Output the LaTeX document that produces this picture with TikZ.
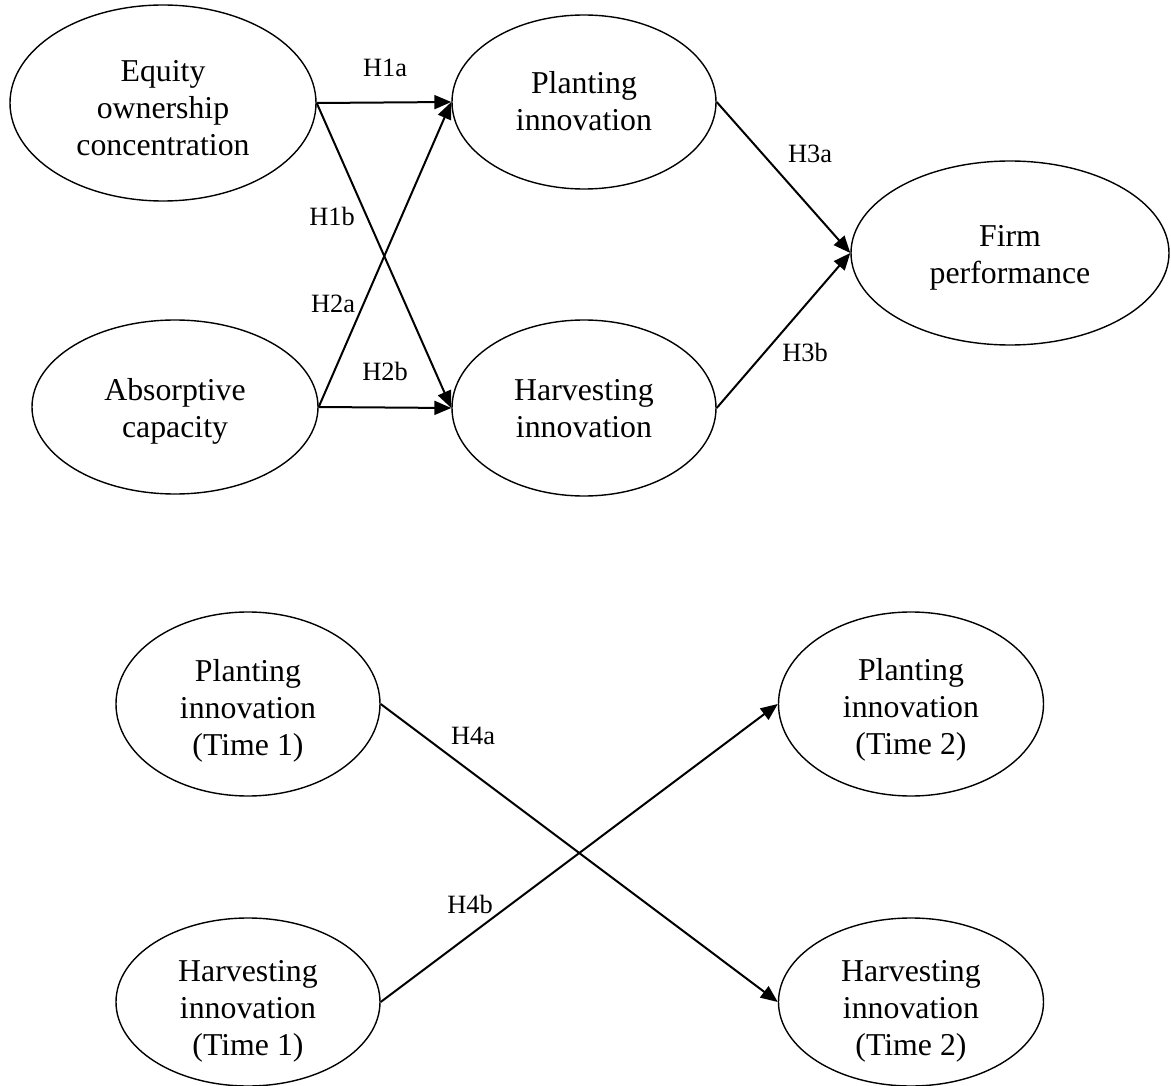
\documentclass[tikz,border=0pt]{standalone}
\usepackage{fontspec}
\setmainfont{Liberation Serif}
\usetikzlibrary{shapes.geometric,arrows.meta,calc}
\begin{document}
\begin{tikzpicture}[x=1pt,y=-1pt,
  ell/.style={draw,line width=1.4pt,ellipse,inner sep=0pt},
  etext/.style={inner sep=0pt,align=center,font=\fontsize{31.8}{37}\selectfont},
  hyp/.style={inner sep=0pt,font=\fontsize{26.4}{30}\selectfont},
  conn/.style={line width=2pt,-{Triangle[length=17pt,width=14pt]}}]
\useasboundingbox (0,0) rectangle (1171,1086);
\node[ell,minimum width=306pt,minimum height=196pt] (eq) at (163,103) {};
\node[ell,minimum width=264pt,minimum height=174pt] (pl) at (584,102) {};
\node[ell,minimum width=286pt,minimum height=174pt] (ab) at (175,407) {};
\node[ell,minimum width=264pt,minimum height=176pt] (hv) at (584,408) {};
\node[ell,minimum width=318pt,minimum height=184pt] (fp) at (1010,253) {};
\node[ell,minimum width=264pt,minimum height=184pt] (p1) at (248,704) {};
\node[ell,minimum width=265pt,minimum height=184pt] (p2) at (911,704) {};
\node[ell,minimum width=264pt,minimum height=168pt] (h1) at (248,1002) {};
\node[ell,minimum width=265pt,minimum height=168pt] (h2) at (911,1002) {};
\node[etext] (eqt) at ($(eq)+(0,5)$) {Equity\\ownership\\concentration};
\node[etext] (plt) at ($(pl)+(0,-1)$) {Planting\\innovation};
\node[etext] (abt) at ($(ab)+(0,4)$) {Absorptive\\capacity};
\node[etext] (hvt) at ($(hv)+(0,1)$) {Harvesting\\innovation};
\node[etext] (fpt) at ($(fp)+(0,5)$) {Firm\\performance};
\node[etext] (p1t) at ($(p1)+(0,7)$) {Planting\\innovation\\(Time 1)};
\node[etext] (p2t) at ($(p2)+(0,6)$) {Planting\\innovation\\(Time 2)};
\node[etext] (h1t) at ($(h1)+(0,9)$) {Harvesting\\innovation\\(Time 1)};
\node[etext] (h2t) at ($(h2)+(0,9)$) {Harvesting\\innovation\\(Time 2)};
\draw[conn] (eq.east) -- (pl.west);
\draw[conn] (eq.east) -- (hv.west);
\draw[conn] (ab.east) -- (pl.west);
\draw[conn] (ab.east) -- (hv.west);
\draw[conn] (pl.east) -- (fp.west);
\draw[conn] (hv.east) -- (fp.west);
\draw[conn] (p1.east) -- (h2.west);
\draw[conn] (h1.east) -- (p2.west);
\node[hyp] (l1a) at (385,68) {H1a};
\node[hyp] (l1b) at (332,216) {H1b};
\node[hyp] (l2a) at (333,304) {H2a};
\node[hyp] (l2b) at (385,371) {H2b};
\node[hyp] (l3a) at (810,154) {H3a};
\node[hyp] (l3b) at (805,352) {H3b};
\node[hyp] (l4a) at (473,736) {H4a};
\node[hyp] (l4b) at (470,904) {H4b};
\end{tikzpicture}
\end{document}
